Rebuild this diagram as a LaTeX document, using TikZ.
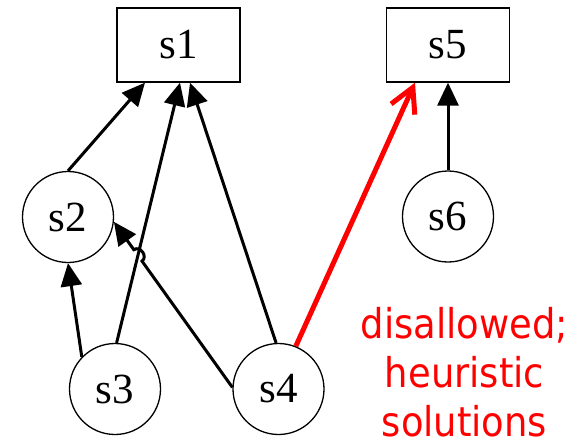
\documentclass[tikz,border=0pt]{standalone}
\usepackage{fontspec}
\setmainfont{Liberation Serif}
\newfontfamily\notefont{DejaVu Sans Condensed}
\usetikzlibrary{arrows.meta,calc}
\begin{document}
\begin{tikzpicture}[x=1pt,y=-1pt,
  statebox/.style={draw, line width=1.3pt, rectangle, minimum width=123pt,
    minimum height=74pt, inner sep=0pt, font=\fontsize{43}{43}\selectfont},
  statecirc/.style={draw, line width=1.3pt, circle, minimum size=91pt,
    inner sep=0pt, font=\fontsize{43}{43}\selectfont},
  dep/.style={line width=3pt, -{Triangle[length=23pt,width=21pt]}},
  bad/.style={red, line width=5pt, -{Straight Barb[length=24pt,width=26pt]}},
]
\useasboundingbox (0,0) rectangle (581,445);

% states
\node[statebox]  (s1) at (178.5,45)  {s1};
\node[statebox]  (s5) at (448,45)    {s5};
\node[statecirc] (s2) at (68,217)    {s2};
\node[statecirc] (s6) at (448,216.5) {s6};
\node[statecirc] (s3) at (115,389)   {s3};
\node[statecirc] (s4) at (278.5,389) {s4};

% arrow ends on the lower side of s1 and s5
\coordinate (t21) at ([xshift=-33.5pt]s1.south);
\coordinate (t31) at ([xshift=1.5pt]s1.south);
\coordinate (t41) at ([xshift=11.5pt]s1.south);
\coordinate (t45) at ([xshift=-33pt]s5.south);

% dependencies
\draw[dep] (s2.north) -- (t21);
\draw[dep] (s3.88) -- (t31);
\draw[dep] (s4.93) -- (t41);
\draw[dep] (s3.136) -- (s2.south);
\draw[dep] (s6.north) -- (s5.south);

% s4 -> s2 hops over s3 -> s1
\coordinate (cross) at (intersection of s3.88--t31 and s4.178--s2.-6);
\coordinate (h1) at ($(cross)!7pt!(s4.178)$);
\coordinate (h2) at ($(cross)!7pt!(s2.-6)$);
\draw[dep] (s4.178) -- (h1) to[bend right=90, looseness=1.4] (h2) -- (s2.-6);

% forbidden dependency
\draw[bad] (s4.68) -- (t45);

\node[red, font=\notefont\fontsize{41}{49}\selectfont, align=center,
  inner sep=0pt, text depth=0pt, anchor=base] (note) at (464.5,436)
  {disallowed;\\heuristic\\solutions};
\end{tikzpicture}
\end{document}
